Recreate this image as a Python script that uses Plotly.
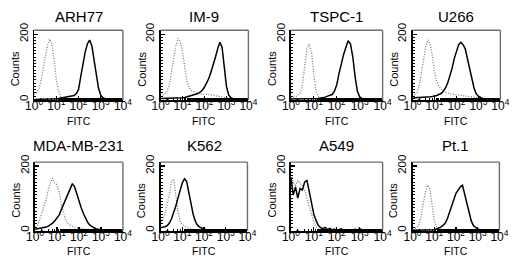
import plotly.graph_objects as go

# log10(FITC) channel grid, 0.1-decade bins from 10^0 to 10^4
FITC_LOG = [round(0.1 * i, 1) for i in range(41)]

PANELS = ["ARH77", "IM-9", "TSPC-1", "U266", "MDA-MB-231", "K562", "A549", "Pt.1"]

# counts per bin: isotype control (dotted) and specific antibody (solid)
ARH77_CTRL = [15, 20, 30, 52, 90, 130, 165, 185, 170, 120, 60, 25, 8, 4, 2, 1]
ARH77_AB = [0, 0, 0, 0, 0, 0, 0, 0, 1, 1, 2, 3, 4, 5, 6, 8, 9, 10, 12, 18, 30, 70, 115,
            145, 170, 182, 165, 120, 70, 35, 13, 5, 2, 1]
IM9_CTRL = [8, 12, 18, 25, 45, 85, 125, 165, 187, 178, 145, 100, 55, 35, 27, 24, 20, 18,
            17, 17, 16, 16, 15, 14, 13, 11, 10, 8, 7, 6, 5, 3, 2, 1]
IM9_AB = [3, 3, 3, 3, 3, 3, 3, 3, 3, 4, 5, 6, 8, 10, 12, 13, 15, 18, 22, 28, 38, 50, 65,
          85, 105, 130, 155, 175, 160, 100, 40, 14, 5, 2]
TSPC1_CTRL = [5, 6, 8, 12, 20, 45, 100, 155, 170, 145, 75, 25, 8, 4, 2, 1]
TSPC1_AB = [1, 1, 1, 1, 1, 1, 1, 1, 1, 1, 2, 2, 3, 4, 5, 7, 10, 13, 15, 25, 45, 80, 112,
            138, 160, 180, 170, 130, 70, 25, 8, 3, 1]
U266_CTRL = [10, 14, 20, 40, 80, 125, 162, 183, 170, 135, 85, 55, 40, 32, 26, 22, 19, 17,
             16, 15, 14, 13, 12, 11, 10, 9, 8, 7, 6, 5, 4, 3, 2, 1]
U266_AB = [3, 5, 6, 6, 6, 6, 7, 7, 8, 9, 10, 12, 15, 18, 25, 35, 50, 70, 95, 125, 150,
           168, 175, 168, 155, 128, 100, 65, 35, 17, 10, 5, 2, 1]
MDA_CTRL = [10, 15, 30, 50, 72, 95, 125, 150, 162, 145, 142, 118, 80, 50, 30, 20, 15, 12,
            10, 8, 6, 5, 4, 3, 2, 1]
MDA_AB = [3, 4, 5, 6, 8, 10, 13, 17, 22, 30, 38, 48, 65, 80, 95, 110, 128, 145, 135, 112,
          90, 70, 52, 36, 24, 16, 11, 7, 4, 2, 1]
K562_CTRL = [25, 32, 50, 78, 110, 150, 160, 110, 60, 28, 18, 13, 10, 7, 5, 3, 2, 1]
K562_AB = [8, 9, 11, 14, 22, 35, 52, 75, 100, 128, 148, 160, 152, 118, 82, 50, 28, 16,
           10, 6, 4, 2, 1]
A549_CTRL = [180, 150, 140, 155, 145, 140, 125, 100, 75, 50, 25, 10, 4, 2, 1]
A549_AB = [165, 110, 135, 100, 130, 125, 150, 155, 120, 80, 50, 30, 15, 8, 5, 9, 2, 6, 1,
           4, 0, 3, 5, 0, 2, 0, 0, 1, 3, 0, 6, 0]
PT1_CTRL = [3, 5, 8, 18, 45, 85, 120, 140, 128, 80, 30, 10, 5, 3, 2, 2, 2, 1, 2, 1, 2, 1,
            1, 2, 1, 1]
PT1_AB = [0, 0, 0, 0, 0, 0, 0, 0, 0, 0, 2, 4, 6, 10, 15, 22, 35, 55, 80, 100, 115, 125,
          135, 140, 110, 85, 55, 30, 15, 8, 4, 2, 1]

CTRL = [ARH77_CTRL, IM9_CTRL, TSPC1_CTRL, U266_CTRL, MDA_CTRL, K562_CTRL, A549_CTRL, PT1_CTRL]
AB = [ARH77_AB, IM9_AB, TSPC1_AB, U266_AB, MDA_AB, K562_AB, A549_AB, PT1_AB]

Y_TICKS = [0, 200]
X_TICKS = [1, 10, 100, 1000, 10000]
X_TICKTEXT = ["10<sup>0</sup>", "10<sup>1</sup>", "10<sup>2</sup>", "10<sup>3</sup>", "10<sup>4</sup>"]

W, H = 520, 262
X_PX = [(26, 118), (157, 248), (292, 387), (418, 509),
        (27, 118), (157, 247), (292, 387), (418, 508)]
Y_PX = [(24, 96)] * 4 + [(160, 231)] * 4
TITLE_Y = [10] * 4 + [143] * 4
FITC_Y = [118] * 4 + [251.5] * 4

FONT = "Arial, 'Liberation Sans', sans-serif"


def pad(vals):
    return list(vals) + [0] * (len(FITC_LOG) - len(vals))


fig = go.Figure()
xs = [10 ** v for v in FITC_LOG]
shapes = []
annotations = []
for i, name in enumerate(PANELS):
    k = "" if i == 0 else str(i + 1)
    xa, ya = "x" + k, "y" + k
    fig.add_trace(go.Scatter(x=xs, y=pad(CTRL[i]), mode="lines", xaxis=xa, yaxis=ya,
                             line=dict(color="#7a7a7a", width=1.3, dash="1px,1.6px"),
                             showlegend=False, hoverinfo="skip"))
    fig.add_trace(go.Scatter(x=xs, y=pad(AB[i]), mode="lines", xaxis=xa, yaxis=ya,
                             line=dict(color="#000000", width=1.5),
                             showlegend=False, hoverinfo="skip"))
    x0, x1 = X_PX[i]
    y0, y1 = Y_PX[i]
    dx = [x0 / W, x1 / W]
    dy = [1 - y1 / H, 1 - y0 / H]
    fig.layout["xaxis" + k] = dict(
        domain=dx, anchor=ya, type="log", range=[0, 4],
        tickvals=X_TICKS, ticktext=X_TICKTEXT, ticks="inside", ticklen=4, tickwidth=1.2,
        tickcolor="black", showline=True, linecolor="black", linewidth=1.6,
        showgrid=False, zeroline=False, ticklabelstandoff=-6,
        minor=dict(ticks="inside", ticklen=2, tickcolor="black", tickwidth=1, showgrid=False),
        tickfont=dict(family=FONT, size=12, color="black"),
    )
    fig.layout["yaxis" + k] = dict(
        domain=dy, anchor=xa, range=[-2, 212],
        tickvals=Y_TICKS, ticks="inside", ticklen=4, tickwidth=1.2, tickcolor="black",
        showline=True, linecolor="black", linewidth=1.6, showgrid=False, zeroline=False,
        minor=dict(ticks="inside", ticklen=2, dtick=10, tickcolor="black", tickwidth=1,
                   showgrid=False),
        tickangle=-90, tickfont=dict(family=FONT, size=11.5, color="black"),
    )
    # grey top / right frame
    shapes.append(dict(type="line", xref=xa + " domain", yref=ya + " domain",
                       x0=0, x1=1, y0=1, y1=1, line=dict(color="#6e6e6e", width=1.4)))
    shapes.append(dict(type="line", xref=xa + " domain", yref=ya + " domain",
                       x0=1, x1=1, y0=0, y1=1, line=dict(color="#6e6e6e", width=1.4)))
    cx = (x0 + x1) / 2 / W
    annotations.append(dict(text=name, x=cx, y=1 - TITLE_Y[i] / H, xref="paper", yref="paper",
                            showarrow=False, xanchor="center", yanchor="middle",
                            font=dict(family=FONT, size=15, color="black")))
    annotations.append(dict(text="FITC", x=cx, y=1 - FITC_Y[i] / H, xref="paper", yref="paper",
                            showarrow=False, xanchor="center", yanchor="middle",
                            font=dict(family=FONT, size=10.5, color="black")))
    annotations.append(dict(text="Counts", x=(x0 - 19.5) / W, y=1 - ((y0 + y1) / 2 + 4) / H,
                            xref="paper", yref="paper", textangle=-90,
                            showarrow=False, xanchor="center", yanchor="middle",
                            font=dict(family=FONT, size=11, color="black")))

fig.update_layout(width=W, height=H, margin=dict(l=0, r=0, t=0, b=0),
                  paper_bgcolor="white", plot_bgcolor="white",
                  shapes=shapes, annotations=annotations)
fig.write_html("out.html", config={"displayModeBar": False, "staticPlot": True},
               post_script="document.body.style.margin='0';")
